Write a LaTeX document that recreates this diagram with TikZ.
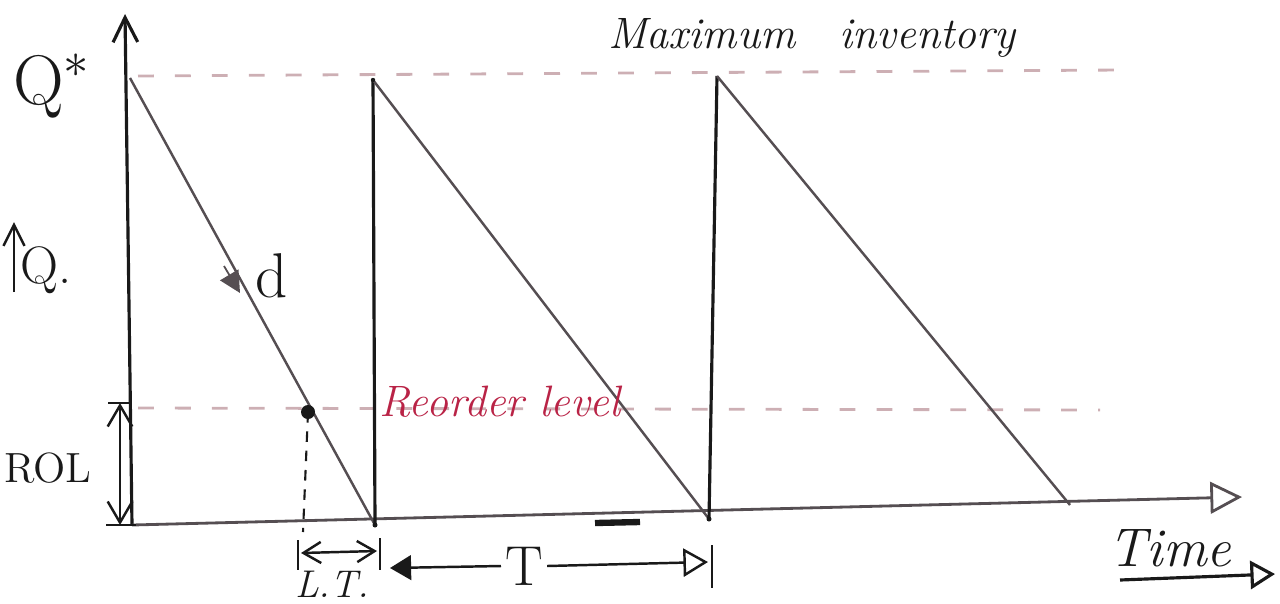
\documentclass[tikz,border=0pt]{standalone}
\usetikzlibrary{arrows.meta}
\definecolor{ink}{RGB}{25,25,25}
\definecolor{greyink}{RGB}{85,78,82}
\definecolor{dashpink}{RGB}{205,175,180}
\definecolor{redink}{RGB}{185,35,70}
\begin{document}
\begin{tikzpicture}[x=0.01cm,y=-0.01cm,
  axis/.style={draw=ink,line width=0.9pt},
  saw/.style={draw=greyink,line width=0.7pt},
  guide/.style={draw=dashpink,line width=0.8pt,dash pattern=on 4.5pt off 6pt},
  drop/.style={draw=ink,line width=0.6pt,dash pattern=on 3pt off 2.5pt},
  dim/.style={draw=ink,line width=0.7pt},
  lbl/.style={text=ink,inner sep=1pt,font=\fontsize{14}{16}\selectfont},
  redlbl/.style={text=redink,inner sep=1pt,font=\itshape\fontsize{12.5}{15}\selectfont}]
\useasboundingbox (0,0) rectangle (1280,603);
% key points
\coordinate (O) at (132,525);
\coordinate (Ytop) at (125,14);
\coordinate (Xend) at (1242,497);
\coordinate (A1) at (130,78);
\coordinate (B1) at (375,525);
\coordinate (A2) at (373,80);
\coordinate (B2) at (709,519);
\coordinate (A3) at (717,76);
\coordinate (B3) at (1070,505);
\coordinate (R) at (308,412);
\coordinate (Rfoot) at (303,532);
\coordinate (MaxL) at (138,76);
\coordinate (MaxR) at (1122,70);
\coordinate (RolL) at (138,408);
\coordinate (RolR) at (1100,410);
% guide lines
\draw[guide] (MaxL) -- (MaxR);
\draw[guide] (RolL) -- (RolR);
% axes
\draw[axis,-{Straight Barb[length=7pt,width=7pt]}] (O) -- (Ytop);
\draw[draw=greyink,line width=0.8pt,-{Triangle[open,length=9pt,width=9pt]}] (O) -- (Xend);
\coordinate (M1) at (595,523);
\coordinate (M2) at (640,522);
\draw[ink,line width=1.8pt] (M1) -- (M2);
% sawtooth
\draw[saw] (A1) -- (B1);
\draw[axis] (B1) -- (A2);
\draw[saw] (A2) -- (B2);
\draw[axis] (B2) -- (A3);
\draw[saw] (A3) -- (B3);
\fill[ink] (A2) circle (2.2);
\fill[ink] (B1) circle (2.5);
\fill[ink] (B2) circle (2.5);
% reorder point
\fill[ink] (R) circle (7);
\draw[drop] (R) -- (Rfoot);
% demand rate arrow
\coordinate (d1) at (224,266);
\coordinate (d2) at (240,293);
\draw[draw=greyink,line width=0.5pt,-{Triangle[length=6pt,width=6pt]}] (d1) -- (d2);
\node[lbl,font=\fontsize{18}{20}\selectfont] (dl) at (272,276) {d};
% ROL dimension
\coordinate (RolTop) at (120,403);
\coordinate (RolBot) at (120,525);
\draw[dim,{Straight Barb[length=6pt,width=7pt]}-{Straight Barb[length=6pt,width=7pt]}] (RolTop) -- (RolBot);
\draw[dim] (108,403) -- (132,403);
\draw[dim] (106,525) -- (136,525);
\node[lbl,font=\fontsize{12}{14}\selectfont] (rol) at (48,468) {ROL};
% labels left
\node[lbl,font=\fontsize{20}{22}\selectfont] (qs) at (52,86) {Q$^{*}$};
\coordinate (qa1) at (14,292);
\coordinate (qa2) at (14,222);
\draw[dim,-{Straight Barb[length=6pt,width=6pt]}] (qa1) -- (qa2);
\node[lbl,font=\fontsize{15}{17}\selectfont] (q) at (46,270) {Q.};
% top label
\node[lbl,font=\itshape\fontsize{12.5}{15}\selectfont] (maxi) at (812,38) {Maximum\quad inventory};
\node[redlbl] (reo) at (500,402) {Reorder level};
% lead time dimension
\coordinate (lt1) at (298,540);
\coordinate (lt1b) at (298,570);
\coordinate (lt2) at (380,538);
\coordinate (lt2b) at (380,570);
\draw[dim] (lt1) -- (lt1b);
\draw[dim] (lt2) -- (lt2b);
\coordinate (la) at (301,553);
\coordinate (lb) at (377,551);
\draw[dim,{Straight Barb[length=5pt,width=6pt]}-{Straight Barb[length=5pt,width=6pt]}] (la) -- (lb);
\node[lbl,font=\itshape\fontsize{11}{13}\selectfont] (ltl) at (332,584) {L.T.};
% cycle time dimension
\node[lbl,font=\fontsize{16}{18}\selectfont] (tl) at (524,566) {T};
\coordinate (ta) at (390,568);
\coordinate (tb) at (708,562);
\draw[dim,-{Triangle[length=6pt,width=7pt]}] (tl.west) -- (ta);
\draw[dim,-{Triangle[open,length=7pt,width=8pt]}] (tl.east) -- (tb);
\coordinate (tt1) at (712,545);
\coordinate (tt2) at (712,588);
\draw[dim] (tt1) -- (tt2);
% time label
\node[lbl,font=\itshape\fontsize{15.5}{18}\selectfont] (time) at (1170,548) {Time};
\coordinate (ua) at (1120,580);
\coordinate (ub) at (1275,574);
\draw[dim,line width=0.9pt,-{Triangle[open,length=7pt,width=8pt]}] (ua) -- (ub);
\end{tikzpicture}
\end{document}
